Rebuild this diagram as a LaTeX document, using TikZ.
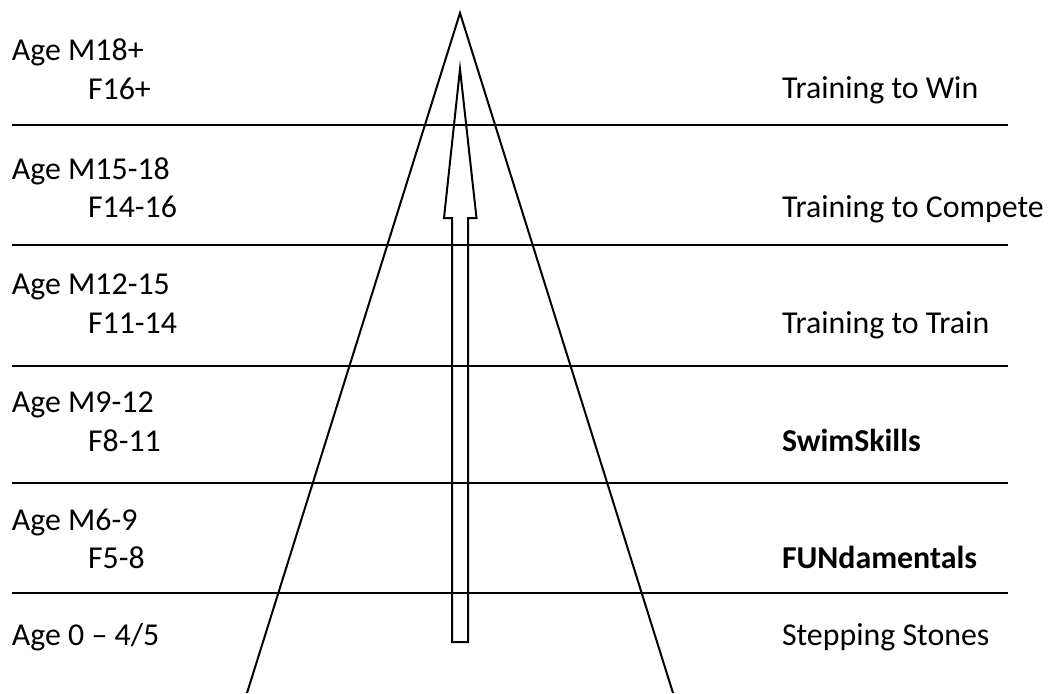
\documentclass[tikz,border=0pt]{standalone}
\usepackage{fontspec}
\setmainfont{Carlito}
\begin{document}
\begin{tikzpicture}[x=0.75pt,y=-0.75pt,
  lbl/.style={anchor=base west,inner sep=0pt,outer sep=0pt,font=\fontsize{23.9}{28}\selectfont},
  band/.style={line width=1.6pt},
  outline/.style={line width=1.5pt,line join=miter}]
\useasboundingbox (0,0) rectangle (1049,693);
% band lines
\foreach \y in {125,245,366,483,593}{
  \draw[band] (12,\y) -- (1008,\y);
}
% triangle
\coordinate (apex) at (460,13);
\coordinate (bl) at (247,693);
\coordinate (br) at (673,693);
\draw[outline] (bl) -- (apex) -- (br);
% arrow
\coordinate (tip) at (460,69);
\draw[outline] (tip) -- (476.5,218) -- (468,218) -- (468,642) -- (452,642) -- (452,218) -- (444,218) -- cycle;
% left texts
\node[lbl] (a1) at (12,60) {Age M18+};
\node[lbl] (f1) at (88,99) {F16+};
\node[lbl] (a2) at (12,179) {Age M15-18};
\node[lbl] (f2) at (88,217) {F14-16};
\node[lbl] (a3) at (12,294) {Age M12-15};
\node[lbl] (f3) at (88,333) {F11-14};
\node[lbl] (a4) at (12,412) {Age M9-12};
\node[lbl] (f4) at (88,451) {F8-11};
\node[lbl] (a5) at (12,530) {Age M6-9};
\node[lbl] (f5) at (88,568) {F5-8};
\node[lbl] (a6) at (12,645) {Age 0 – 4/5};
% right texts
\node[lbl] (r1) at (782,98) {Training to Win};
\node[lbl] (r2) at (782,217) {Training to Compete};
\node[lbl] (r3) at (782,333) {Training to Train};
\node[lbl] (r4) at (782,451) {\bfseries SwimSkills};
\node[lbl] (r5) at (782,568) {\bfseries FUNdamentals};
\node[lbl] (r6) at (782,645) {Stepping Stones};
\end{tikzpicture}
\end{document}
